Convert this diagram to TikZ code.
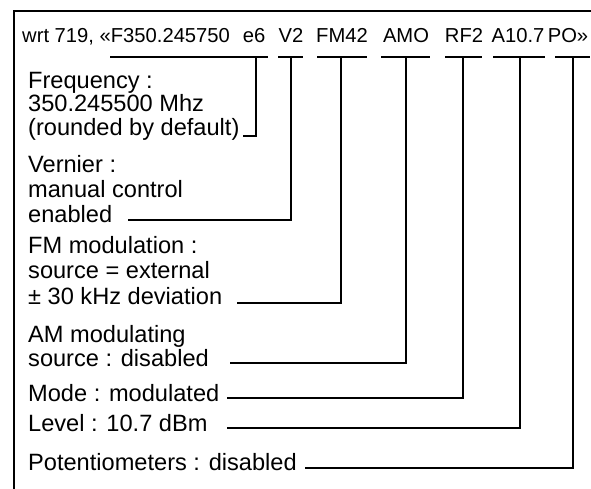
\documentclass[tikz,border=0pt]{standalone}
\usepackage{fontspec}
\setmainfont{Liberation Sans}
\begin{document}
\begin{tikzpicture}[x=1pt,y=-1pt,
  lbl/.style={anchor=base west, inner sep=0pt, font=\fontsize{23.6}{24}\selectfont},
  hdr/.style={anchor=base, inner sep=0pt, font=\fontsize{20.2}{22}\selectfont},
  wire/.style={line width=2pt}]
\useasboundingbox (0,0) rectangle (591,489);
% frame
\coordinate (frTR) at (591,11);
\coordinate (frTL) at (14,11);
\coordinate (frBL) at (14,489);
\draw[wire] (frTR) -- (frTL) -- (frBL);
% header tokens
\node[hdr, anchor=base west] (h0) at (22,43) {wrt 719, «F350.245750};
\node[hdr] (h1) at (254,43) {e6};
\node[hdr] (h2) at (291,43) {V2};
\node[hdr] (h3) at (342,43) {FM42};
\node[hdr] (h4) at (406,43) {AMO};
\node[hdr] (h5) at (464,43) {RF2};
\node[hdr] (h6) at (518,43) {A10.7};
\node[hdr] (h7) at (568,43) {PO»};
% labels
\node[lbl] (f1) at (28,89) {Frequency :};
\node[lbl] (f2) at (28,112) {350.245500 Mhz};
\node[lbl] (f3) at (28,136) {(rounded by default)};
\node[lbl] (v1) at (28,172) {Vernier :};
\node[lbl] (v2) at (28,197) {manual control};
\node[lbl] (v3) at (28,222) {enabled};
\node[lbl] (m1) at (28,253) {FM modulation :};
\node[lbl] (m2) at (28,278) {source = external};
\node[lbl] (m3) at (28,304) {± 30 kHz deviation};
\node[lbl] (a1) at (28,342) {AM modulating};
\node[lbl] (a2) at (28,366) {source : disabled};
\node[lbl] (mo) at (28,401) {Mode : modulated};
\node[lbl] (le) at (28,431) {Level : 10.7 dBm};
\node[lbl] (po) at (28,470) {Potentiometers : disabled};
% bracket coordinates
\coordinate (b1l) at (110,57); \coordinate (b1r) at (268,57); \coordinate (b1v) at (256,57); \coordinate (e1) at (243,136);
\coordinate (b2l) at (278,57); \coordinate (b2r) at (303,57); \coordinate (b2v) at (291,57); \coordinate (e2) at (128,220);
\coordinate (b3l) at (317,57); \coordinate (b3r) at (367,57); \coordinate (b3v) at (341,57); \coordinate (e3) at (237,303);
\coordinate (b4l) at (381,57); \coordinate (b4r) at (430,57); \coordinate (b4v) at (406,57); \coordinate (e4) at (230,363);
\coordinate (b5l) at (445,57); \coordinate (b5r) at (482,57); \coordinate (b5v) at (463,57); \coordinate (e5) at (227,398);
\coordinate (b6l) at (493,57); \coordinate (b6r) at (545,57); \coordinate (b6v) at (520,57); \coordinate (e6) at (227,428);
\coordinate (b7l) at (555,57); \coordinate (b7r) at (590,57); \coordinate (b7v) at (573,57); \coordinate (e7) at (305,468);
\foreach \i in {1,...,7}{
  \draw[wire] (b\i l) -- (b\i r);
  \draw[wire] (b\i v) |- (e\i);
}
\end{tikzpicture}
\end{document}
